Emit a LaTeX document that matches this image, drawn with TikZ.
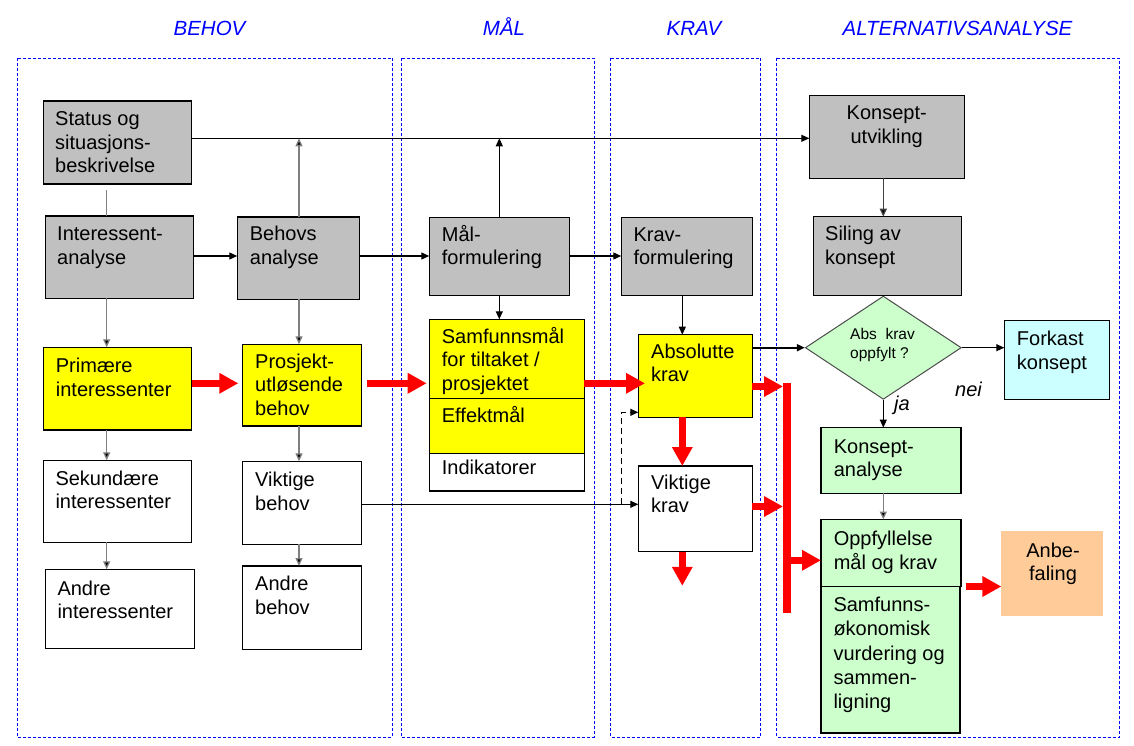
\documentclass[tikz,border=0pt]{standalone}
\usepackage{fontspec}
\setmainfont{Liberation Sans}
\usetikzlibrary{arrows.meta,shapes.geometric}
\definecolor{gfill}{HTML}{C0C0C0}
\definecolor{yfill}{HTML}{FFFF00}
\definecolor{grfill}{HTML}{CCFFCC}
\definecolor{cfill}{HTML}{CCFFFF}
\definecolor{pfill}{HTML}{FFCC99}
\definecolor{lgray}{HTML}{7F7F7F}
\newcommand\Lt[1]{\vtop{\halign{##\hfil\cr#1\crcr}}}
\newcommand\Ct[1]{\vtop{\halign{\hfil##\hfil\cr#1\crcr}}}
\newcommand\bx[6]{\node[box,fill=#6,minimum width={(#4)-(#2)},minimum height={(#5)-(#3)}] (#1) at (#2,#3) {};}
\newcommand\tx[4]{\node[txt,anchor=base west] (#1) at (#2,#3) {\Lt{#4}};}
\tikzset{
  box/.style={draw=black,line width=1.1pt,inner sep=0pt,outer sep=0pt,anchor=north west},
  txt/.style={inner sep=0pt,font=\fontsize{20}{23.5}\selectfont},
  head/.style={inner sep=0pt,text=blue,font=\fontsize{20.5}{24}\selectfont\itshape,anchor=base},
  col/.style={draw=blue,line width=0.9pt,dash pattern=on 3pt off 2pt},
  ar/.style={draw=black,line width=1.1pt,-{Triangle[length=8pt,width=7pt]}},
  ga/.style={draw=lgray,line width=1.3pt,-{Triangle[length=8pt,width=7pt,fill=black]}},
  rar/.style={draw=red,line width=7.5pt,-{Triangle[length=19pt,width=19.5pt]}},
}
\begin{document}
\begin{tikzpicture}[x=1pt,y=-1pt]
\useasboundingbox (0,0) rectangle (1134,746);
% columns
\draw[col] (17.3,58) rectangle (392.7,737);
\draw[col] (401.3,58) rectangle (594.3,737);
\draw[col] (610.7,58) rectangle (760.8,737);
\draw[col] (776.3,58.3) rectangle (1119.5,737);
\node[head] (hB) at (209.5,36) {BEHOV};
\node[head] (hM) at (504,36) {MÅL};
\node[head] (hK) at (694,36) {KRAV};
\node[head] (hA) at (957.5,36) {ALTERNATIVSANALYSE};
% boxes
\bx{ST}{43.3}{101}{191.7}{184}{gfill}
\bx{IA}{45.3}{216}{193.7}{298.3}{gfill}
\bx{BA}{237.3}{217}{359.3}{299.3}{gfill}
\bx{PI}{43.3}{347.3}{191.7}{430}{yfill}
\bx{PB}{242.3}{344.3}{361.3}{426}{yfill}
\bx{SI}{43.3}{460.3}{191.7}{542.3}{white}
\bx{AI}{45.3}{569.3}{194.3}{648.3}{white}
\bx{VB}{242.3}{461.3}{361.3}{544.3}{white}
\bx{AB}{242.3}{566}{361.3}{649.3}{white}
\bx{MF}{429.3}{217.3}{569.3}{295.3}{gfill}
\bx{SM}{429.3}{319.3}{584.3}{398.3}{yfill}
\bx{EM}{429.3}{398.3}{584.3}{453.3}{yfill}
\bx{IN}{429.3}{453.3}{584.3}{491}{white}
\bx{KF}{621.3}{217.3}{752.7}{295.3}{gfill}
\bx{AK}{638.3}{334.7}{752.3}{417.3}{yfill}
\bx{VK}{638.3}{466}{752.3}{551.8}{white}
\bx{KU}{809.3}{95.3}{964.3}{178.3}{gfill}
\bx{SK}{813.3}{216.7}{961.3}{295.3}{gfill}
\bx{FK}{1004.3}{320.3}{1109.3}{399.3}{cfill}
\bx{KA}{821}{427.6}{961}{493.3}{grfill}
\bx{OP}{821}{519.5}{961}{586.5}{grfill}
\bx{SO}{821}{586.5}{960}{733}{grfill}
\node[box,draw=none,fill=pfill,minimum width=101.6,minimum height=85] (AN) at (1001.4,531) {};
\node[diamond,draw=black!70,line width=1pt,fill=grfill,inner sep=0pt,minimum width=156,minimum height=103.3] (D) at (883.3,347.7) {};
% texts
\tx{tST}{55}{125.7}{Status og\cr situasjons-\cr beskrivelse}
\tx{tIA}{57}{240.7}{Interessent-\cr analyse}
\tx{tBA}{249.7}{240.7}{Behovs\cr analyse}
\tx{tPI}{55.7}{372.7}{Primære\cr interessenter}
\tx{tPB}{255}{368.3}{Prosjekt-\cr utløsende\cr behov}
\tx{tSI}{55.3}{485}{Sekundære\cr interessenter}
\tx{tAI}{57.3}{595}{Andre\cr interessenter}
\tx{tVB}{255}{486.7}{Viktige\cr behov}
\tx{tAB}{255}{590.7}{Andre\cr behov}
\tx{tMF}{441.7}{241.3}{Mål-\cr formulering}
\tx{tKF}{633.3}{241.3}{Krav-\cr formulering}
\tx{tSM}{441.7}{343.3}{Samfunnsmål\cr for tiltaket /\cr prosjektet}
\tx{tEM}{441.7}{422.7}{Effektmål}
\tx{tIN}{441.7}{474.3}{Indikatorer}
\tx{tAK}{651}{358.3}{Absolutte\cr krav}
\tx{tVK}{651}{489.3}{Viktige\cr krav}
\node[txt,anchor=base] (tKU) at (886.7,120) {\Ct{Konsept-\cr utvikling}};
\tx{tSK}{825}{240.7}{Siling av\cr konsept}
\tx{tFK}{1016.7}{345.7}{Forkast\cr konsept}
\node[inner sep=0pt,anchor=base west,font=\fontsize{15.5}{19}\selectfont] (tD) at (850,339.3) {\Lt{Abs\ \ krav\cr oppfylt ?}};
\tx{tKA}{833.6}{453.2}{Konsept-\cr analyse}
\tx{tOP}{833.6}{545.9}{Oppfyllelse\cr mål og krav}
\node[txt,anchor=base west,font=\fontsize{20}{24.2}\selectfont] (tSO) at (833.3,611.6) {\Lt{Samfunns-\cr økonomisk\cr vurdering og\cr sammen-\cr ligning}};
\node[txt,anchor=base] (tAN) at (1053,557.1) {\Ct{Anbe-\cr faling}};
\node[txt,anchor=base west,font=\fontsize{20}{23.5}\selectfont\itshape] (nei) at (955,396.7) {nei};
\node[txt,anchor=base west,font=\fontsize{20}{23.5}\selectfont\itshape] (ja) at (894,410) {ja};
% helper coordinates
\coordinate (xL) at (106.7,0);
\coordinate (xB) at (299,0);
\coordinate (xK) at (682.3,0);
\coordinate (xD) at (621.7,0);
\coordinate (xA) at (883.3,0);
\coordinate (xBar) at (787,0);
\coordinate (yS) at (0,138.3);
\coordinate (yM) at (0,256);
\coordinate (yD) at (0,412.3);
\coordinate (yV) at (0,504.3);
\coordinate (yR1) at (0,383.3);
\coordinate (yR2) at (0,386.5);
\coordinate (yR3) at (0,506.5);
\coordinate (yR4) at (0,560.3);
\coordinate (yR5) at (0,586.5);
\coordinate (yBt) at (0,383);
\coordinate (yBb) at (0,613.3);
% thin connectors
\draw[draw=lgray,line width=1.3pt] (IA.north -| xL) -- ++(0,-26);
\draw[ar] (ST.east |- yS) -- (KU.west |- yS);
\draw[ga] (BA.north -| xB) -- (xB |- yS);
\draw[ar] (MF.north) -- (MF.north |- yS);
\draw[ar] (IA.east |- yM) -- (BA.west |- yM);
\draw[ar] (BA.east |- yM) -- (MF.west |- yM);
\draw[ar] (MF.east |- yM) -- (KF.west |- yM);
\draw[ga] (IA.south -| xL) -- (PI.north -| xL);
\draw[ga] (PI.south -| xL) -- (SI.north -| xL);
\draw[ga] (SI.south -| xL) -- (AI.north -| xL);
\draw[ga] (BA.south -| xB) -- (PB.north -| xB);
\draw[ga] (PB.south -| xB) -- (VB.north -| xB);
\draw[ga] (VB.south -| xB) -- (AB.north -| xB);
\draw[ar] (MF.south) -- (SM.north -| MF.south);
\draw[ar] (KF.south -| xK) -- (AK.north -| xK);
\draw[ar] (VB.east |- yV) -- (VK.west |- yV);
\draw[ar,dash pattern=on 6pt off 4pt] (xD |- yV) -- (xD |- yD) -- (AK.west |- yD);
\draw[ar,line width=1.7pt] (AK.east |- D.west) -- (D.west);
\draw[ar] (D.east) -- (D.east -| FK.west);
\draw[ga,draw=black!75] (KU.south -| xA) -- (SK.north -| xA);
\draw[ar] (D.south) -- (KA.north -| xA);
\draw[ga] (KA.south -| xA) -- (OP.north -| xA);
% red arrows
\draw[rar,shorten >=4pt] (PI.east |- yR1) -- (PB.west |- yR1);
\draw[rar,shorten <=5.4pt,shorten >=2.6pt] (PB.east |- yR1) -- (SM.west |- yR1);
\draw[rar,shorten >=-6.7pt] (SM.east |- yR1) -- (AK.west |- yR1);
\draw[rar] (AK.south -| xK) -- (VK.north -| xK);
\draw[rar] (VK.south -| xK) -- ++(0,34);
\draw[draw=red,line width=7.5pt] (xBar |- yBt) -- (xBar |- yBb);
\draw[rar,shorten >=4pt] (AK.east |- yR2) -- (xBar |- yR2);
\draw[rar,shorten >=4pt] (VK.east |- yR3) -- (xBar |- yR3);
\draw[rar] (xBar |- yR4) -- (OP.west |- yR4);
\draw[rar,shorten <=4.6pt] (OP.east |- yR5) -- (AN.west |- yR5);
\end{tikzpicture}
\end{document}
